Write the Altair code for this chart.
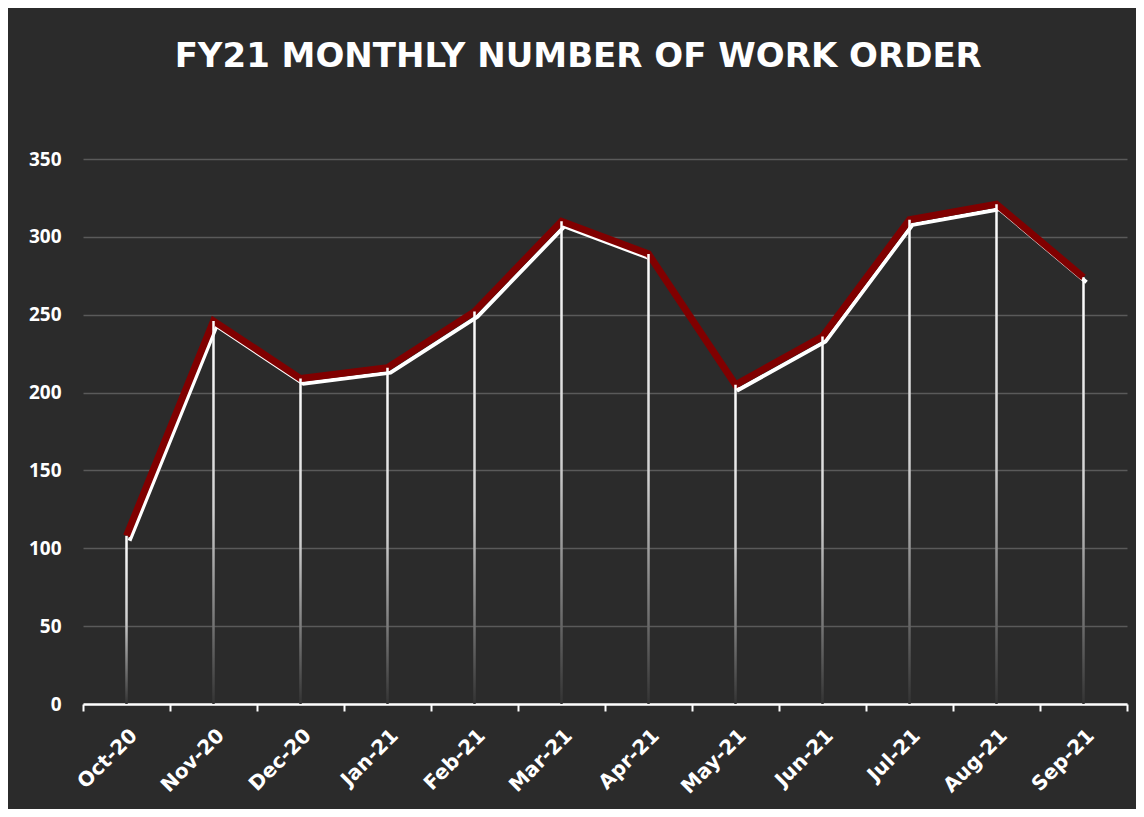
import altair as alt
import pandas as pd

months = ["Oct-20", "Nov-20", "Dec-20", "Jan-21", "Feb-21", "Mar-21",
          "Apr-21", "May-21", "Jun-21", "Jul-21", "Aug-21", "Sep-21"]
orders = [108, 246, 209, 216, 252, 310, 289, 205, 236, 311, 321, 274]
y_ticks = [0, 50, 100, 150, 200, 250, 300, 350]

df = pd.DataFrame({"month": months, "orders": orders})

BG = "#2b2b2b"

x_enc = alt.X("month:N", sort=months, title=None,
              scale=alt.Scale(paddingInner=0, paddingOuter=0),
              axis=alt.Axis(labelAngle=-45, labelFont="DejaVu Sans", labelFontSize=20,
                            labelFontWeight="bold", labelColor="white", labelPadding=14,
                            domainColor="white", domainWidth=2.5, tickColor="white",
                            tickWidth=2, tickSize=7, tickBand="extent", grid=False))
y_enc = alt.Y("orders:Q", title=None,
              scale=alt.Scale(domain=[0, 350], nice=False),
              axis=alt.Axis(values=y_ticks, domain=False, ticks=False,
                            labelFont="Open Sans", labelFontSize=19, labelFontWeight="bold",
                            labelColor="white", labelPadding=22,
                            grid=True, gridColor="#5a5a5a", gridWidth=1.5))

base = alt.Chart(df)

shadow = base.mark_line(color="white", strokeWidth=4, xOffset=3, yOffset=5).encode(x=x_enc, y=y_enc)
red = base.mark_line(color="#800000", strokeWidth=7).encode(x=x_enc, y=y_enc)
drops = base.mark_bar(
    width=2.5,
    color=alt.Gradient(gradient="linear", x1=0, x2=0, y1=0, y2=1,
                       stops=[alt.GradientStop(color="#ffffff", offset=0),
                              alt.GradientStop(color="#cfcfcf", offset=0.5),
                              alt.GradientStop(color="#333333", offset=1)])
).encode(x=x_enc, y=y_enc, y2=alt.datum(0))

chart = alt.layer(shadow, red, drops).properties(
    width=1044, height=545,
    padding={"left": 75, "top": 151, "right": 9, "bottom": 105},
    autosize=alt.AutoSizeParams(type="none"),
    background=BG,
    title=alt.TitleParams(text="FY21 MONTHLY  NUMBER OF WORK ORDER", font="DejaVu Sans",
                          fontSize=34, fontWeight="bold", color="white",
                          anchor="middle", frame="bounds", baseline="alphabetic", offset=49),
).configure_view(stroke=None)

chart.save("out.html", embed_options={"renderer": "svg", "actions": False})
